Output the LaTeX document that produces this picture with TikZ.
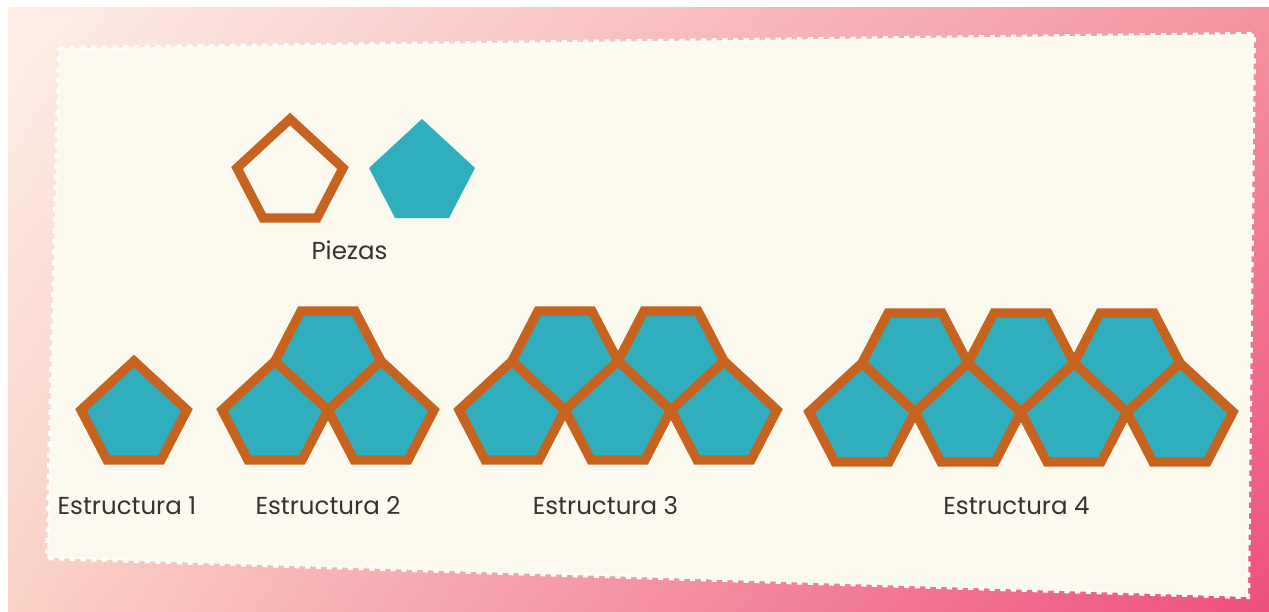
\documentclass[tikz,border=0pt]{standalone}
\usepackage{fontspec}
\setmainfont{Poppins}
\usetikzlibrary{shadings}
\definecolor{bgTL}{HTML}{FDF0E8}
\definecolor{bgTR}{HTML}{F4939E}
\definecolor{bgBL}{HTML}{FAD2C6}
\definecolor{bgBR}{HTML}{EE4F7D}
\definecolor{card}{HTML}{FCFAEE}
\definecolor{teal}{HTML}{30AEBD}
\definecolor{rust}{HTML}{C8621F}
\definecolor{ink}{HTML}{333333}
\newcommand\upPent[3]{\path[#3] (#1,#2) -- ++(53,49) -- ++(-26,50) -- ++(-54,0) -- ++(-26,-50) -- cycle;}
\newcommand\dnPent[3]{\path[#3] (#1,#2) -- ++(53,-49) -- ++(-26,-50) -- ++(-54,0) -- ++(-26,50) -- cycle;}
\tikzset{
  tile/.style={fill=teal, draw=rust, line width=9.3pt, line join=miter},
  outline/.style={draw=rust, line width=9.3pt, line join=miter},
  solid tile/.style={fill=teal},
  lbl/.style={font=\fontsize{24.5}{28}\selectfont, text=ink, anchor=base, inner sep=0pt}
}
\begin{document}
\begin{tikzpicture}[x=1pt,y=-1pt]
\useasboundingbox (0,0) rectangle (1269,611);
\fill[white] (0,0) rectangle (1269,611);
\shade[upper left=bgTL, upper right=bgTR, lower left=bgBL, lower right=bgBR] (8,7) rectangle (1269,611);
% card
\filldraw[fill=card, draw=white, line width=4.3pt, dash pattern=on 5pt off 5.7pt]
  (59,48) -- (1254,34) -- (1248,597) -- (47,558) -- cycle;
% Piezas
\upPent{290}{119}{outline}
\upPent{422}{119}{solid tile}
\node[lbl] (piezas) at (349.5,259.5) {Piezas};
% Estructura 1
\upPent{134}{361}{tile}
% Estructura 2
\upPent{275}{361}{tile}
\upPent{381}{361}{tile}
\dnPent{328}{410}{tile}
% Estructura 3
\upPent{512}{361}{tile}
\upPent{618}{361}{tile}
\upPent{724}{361}{tile}
\dnPent{565}{410}{tile}
\dnPent{671}{410}{tile}
% Estructura 4
\upPent{862}{363}{tile}
\upPent{968}{363}{tile}
\upPent{1074}{363}{tile}
\upPent{1180}{363}{tile}
\dnPent{915}{412}{tile}
\dnPent{1021}{412}{tile}
\dnPent{1127}{412}{tile}
% labels
\node[lbl] (e1) at (127,514) {Estructura 1};
\node[lbl] (e2) at (328,514) {Estructura 2};
\node[lbl] (e3) at (605.5,514) {Estructura 3};
\node[lbl] (e4) at (1016.5,514) {Estructura 4};
\end{tikzpicture}
\end{document}
